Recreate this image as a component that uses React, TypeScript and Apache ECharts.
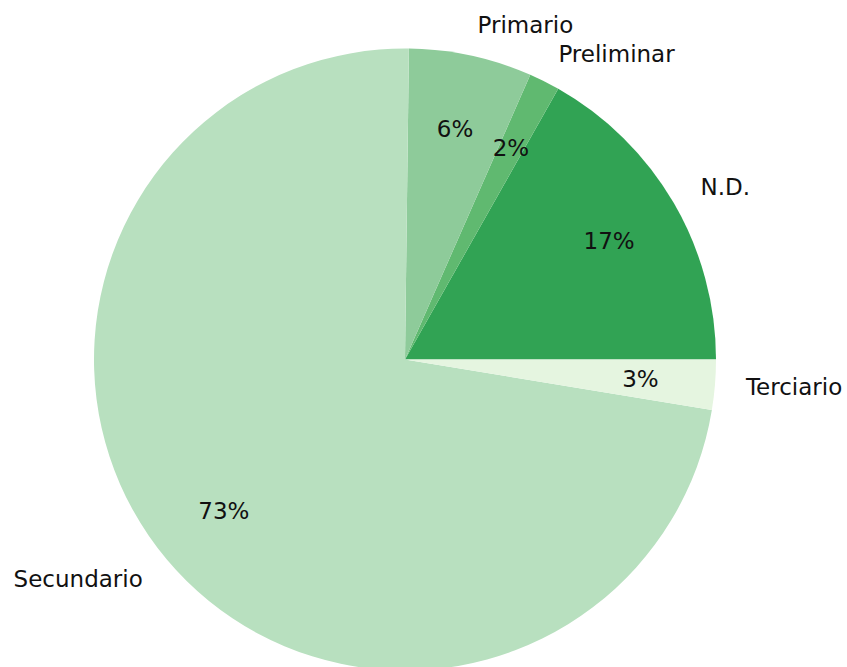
import React, { useEffect, useRef } from "react";
import * as echarts from "echarts";

const categories = ["N.D.", "Preliminar", "Primario", "Secundario", "Terciario"];
const values = [16.8, 1.6, 6.4, 72.6, 2.6];
const colors = ["#31a354", "#60b970", "#8ecb9a", "#b8e0bf", "#e5f5e0"];

const R = 311;
const CX = 405;
const CY = 359.5;
const FONT = "DejaVu Sans";
const FS = 23;

export default function App() {
  const ref = useRef<HTMLDivElement>(null);
  useEffect(() => {
    if (!ref.current) return;
    const chart = echarts.init(ref.current, undefined, { renderer: "svg" });
    const total = values.reduce((a, b) => a + b, 0);
    const data = categories.map((name, i) => ({
      name,
      value: values[i],
      itemStyle: { color: colors[i] },
    }));
    chart.setOption({
      animation: false,
      backgroundColor: "#ffffff",
      series: [
        {
          type: "pie",
          center: [CX, CY],
          radius: [0, R],
          startAngle: 0,
          clockwise: false,
          avoidLabelOverlap: false,
          silent: true,
          itemStyle: { borderWidth: 0 },
          emphasis: { disabled: true },
          label: {
            show: true,
            position: "outside",
            formatter: "{b}",
            color: "#111",
            fontFamily: FONT,
            fontSize: FS,
            distanceToLabelLine: 0,
          },
          labelLine: { show: false, length: R * 0.1, length2: 0 },
          data,
        },
        {
          type: "pie",
          center: [CX, CY],
          radius: [R * 0.5, R],
          startAngle: 0,
          clockwise: false,
          avoidLabelOverlap: false,
          silent: true,
          itemStyle: { color: "rgba(0,0,0,0)", borderWidth: 0 },
          emphasis: { disabled: true },
          label: {
            show: true,
            position: "inside",
            formatter: (p: any) => Math.round((p.value / total) * 100) + "%",
            color: "#111",
            fontFamily: FONT,
            fontSize: FS,
          },
          labelLine: { show: false },
          data: categories.map((name, i) => ({ name, value: values[i] })),
        },
      ],
    });
    return () => chart.dispose();
  }, []);
  return (
    <div
      ref={ref}
      style={{ position: "absolute", left: 0, top: 0, width: 847, height: 667 }}
    />
  );
}
